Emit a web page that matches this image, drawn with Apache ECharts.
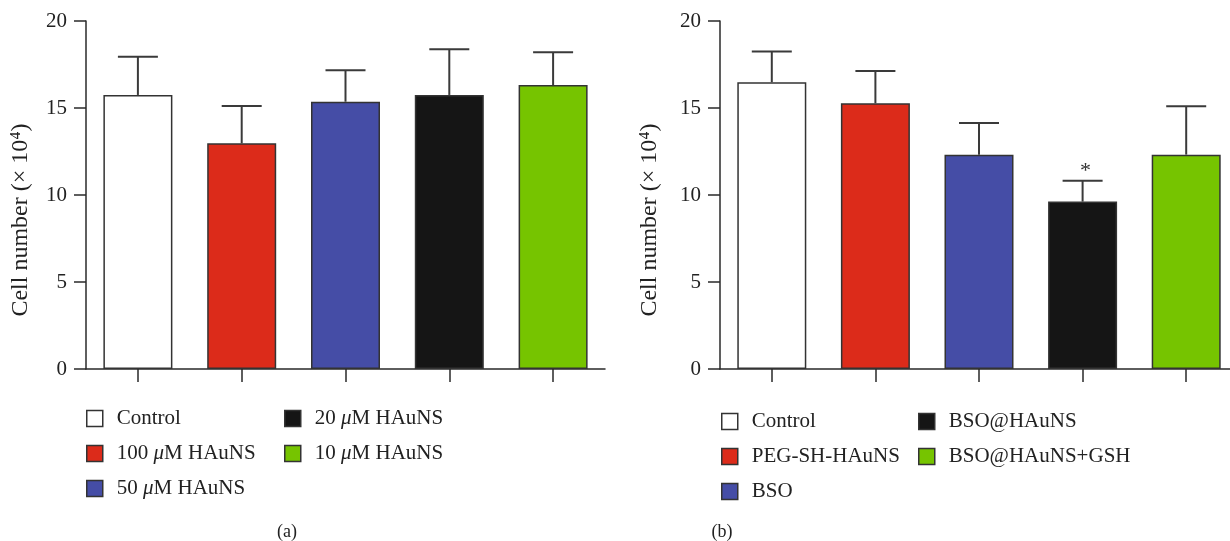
<!DOCTYPE html>
<html>
<head>
<meta charset="utf-8">
<script src="https://cdn.jsdelivr.net/npm/echarts@6/dist/echarts.min.js"></script>
<style>
  html, body { margin: 0; padding: 0; background: #fff; }
  #chart { width: 1230px; height: 541px; }
</style>
</head>
<body>
<div id="chart"></div>
<script>
// panel (a)
const catA = ['Control', '100 μM HAuNS', '50 μM HAuNS', '20 μM HAuNS', '10 μM HAuNS'];
const meanA = [15.75, 12.97, 15.36, 15.75, 16.32];
const errA = [2.2, 2.14, 1.81, 2.62, 1.88];
// panel (b)
const catB = ['Control', 'PEG-SH-HAuNS', 'BSO', 'BSO@HAuNS', 'BSO@HAuNS+GSH'];
const meanB = [16.48, 15.27, 12.32, 9.62, 12.32];
const errB = [1.76, 1.86, 1.82, 1.2, 2.78];
const sigB = ['', '', '', '*', ''];
const barColors = ['#ffffff', '#dc2b1a', '#454da6', '#151515', '#76c400'];
const yMin = 0, yMax = 20, yStep = 5;
const yName = 'Cell number (× 10⁴)';
const captions = ['(a)', '(b)'];

const FONT = 'Liberation Serif';
const TXT = '#222';
const AXC = '#2a2a2a';

let myChart = echarts.init(document.getElementById('chart'));

function xAxisFor(idx, cats) {
    return {
        type: 'category', gridIndex: idx, data: cats,
        axisLine: { lineStyle: { color: AXC, width: 1.5 } },
        axisTick: { show: true, interval: 0, alignWithLabel: true, length: 13, lineStyle: { color: AXC, width: 1.5 } },
        axisLabel: { show: false, interval: 0 },
        splitLine: { show: false }
    };
}
function yAxisFor(idx, gap) {
    return {
        type: 'value', gridIndex: idx, min: yMin, max: yMax, interval: yStep,
        name: yName, nameLocation: 'middle', nameRotate: 90, nameGap: gap,
        nameTextStyle: { fontFamily: FONT, fontSize: 24, color: TXT, padding: [0, 50, 0, 0] },
        axisLine: { show: true, lineStyle: { color: AXC, width: 1.5 } },
        axisTick: { show: true, length: 12, lineStyle: { color: AXC, width: 1.5 } },
        axisLabel: { fontFamily: FONT, fontSize: 21, color: TXT, margin: 19 },
        splitLine: { show: false }
    };
}
function barsFor(idx, cats, means) {
    return cats.map(function (name, i) {
        return {
            type: 'bar', name: name, xAxisIndex: idx, yAxisIndex: idx,
            barWidth: 69, barGap: '-100%',
            data: means.map(function (v, j) { return j === i ? v : '-'; }),
            itemStyle: { color: barColors[i], borderColor: '#333', borderWidth: 1.5 },
            emphasis: { disabled: true }
        };
    });
}
function errFor(idx, means, errs, marks) {
    return {
        type: 'custom', xAxisIndex: idx, yAxisIndex: idx, z: 5,
        data: means.map(function (v, i) { return [i, v, errs[i]]; }),
        renderItem: function (params, api) {
            var i = api.value(0), m = api.value(1), e = api.value(2);
            var base = api.coord([i, m]);
            var top = api.coord([i, m + e]);
            var st = { stroke: '#3a3a3a', lineWidth: 2 };
            var kids = [
                { type: 'line', shape: { x1: base[0], y1: base[1], x2: top[0], y2: top[1] }, style: st },
                { type: 'line', shape: { x1: top[0] - 20, y1: top[1], x2: top[0] + 20, y2: top[1] }, style: st }
            ];
            var mk = marks ? marks[params.dataIndex] : '';
            if (mk) {
                kids.push({ type: 'text', x: top[0] + 3, y: top[1] - 10,
                    style: { text: mk, fontFamily: FONT, fontSize: 22, fill: '#333', align: 'center', verticalAlign: 'middle' } });
            }
            return { type: 'group', children: kids };
        }
    };
}
function legendFor(names, left, top) {
    return {
        data: names, left: left, top: top, orient: 'vertical', padding: 0,
        itemGap: 14, itemWidth: 16, itemHeight: 16, icon: 'rect', selectedMode: false,
        itemStyle: { borderColor: '#333', borderWidth: 1.5 },
        formatter: function (n) { return n.replace('μ', '{mu|μ}'); },
        textStyle: {
            fontFamily: FONT, fontSize: 21, color: TXT, padding: [0, 0, 0, 9],
            rich: { mu: { fontFamily: FONT, fontSize: 21, fontStyle: 'italic', color: TXT } }
        }
    };
}

myChart.setOption({
    animation: false,
    grid: [
        { left: 86, top: 21, width: 519, height: 348, containLabel: false, outerBoundsMode: 'none' },
        { left: 720, top: 21, width: 518, height: 348, containLabel: false, outerBoundsMode: 'none' }
    ],
    xAxis: [xAxisFor(0, catA), xAxisFor(1, catB)],
    yAxis: [yAxisFor(0, 53), yAxisFor(1, 58)],
    legend: [
        legendFor(catA.slice(0, 3), 86, 408),
        legendFor(catA.slice(3), 284, 408),
        legendFor(catB.slice(0, 3), 721, 411),
        legendFor(catB.slice(3), 918, 411)
    ],
    graphic: captions.map(function (c, i) {
        return { type: 'text', x: i === 0 ? 287 : 722, y: 532,
            style: { text: c, fontFamily: FONT, fontSize: 18, fill: TXT, align: 'center', verticalAlign: 'middle' } };
    }),
    series: [].concat(
        barsFor(0, catA, meanA), [errFor(0, meanA, errA, null)],
        barsFor(1, catB, meanB), [errFor(1, meanB, errB, sigB)]
    )
});
</script>
</body>
</html>
